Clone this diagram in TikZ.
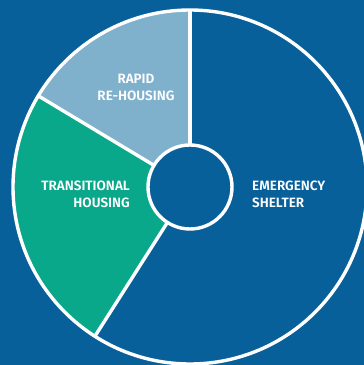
\documentclass[tikz,border=0pt]{standalone}
\usepackage{fontspec}
\setmainfont{Fira Sans}[BoldFont={Fira Sans SemiBold}]
\usepackage{xcolor}
\usetikzlibrary{calc}
\definecolor{bgblue}{HTML}{08609B}
\definecolor{rapidblue}{HTML}{7FB0CC}
\definecolor{transgreen}{HTML}{0AA88A}
\tikzstyle{sep}=[draw=white, line width=3.4pt]
\tikzstyle{lbl}=[text=white, font=\fontsize{13.5}{17}\selectfont\bfseries, inner sep=0pt]

\begin{document}
\begin{tikzpicture}[x=1pt, y=1pt]
		\useasboundingbox (0, 0) rectangle (364, 365);
		\clip (0, 0) rectangle (364, 365);
		\fill[bgblue] (0, 0) rectangle (364, 365);
		\coordinate (c) at (190, 178);
		% slices
		\fill[rapidblue] (c) -- ++(90:177) arc (90:149:177) -- cycle;
		\fill[transgreen] (c) -- ++(149:177) arc (149:237.5:177) -- cycle;
		\fill[bgblue] (c) -- ++(237.5:177) arc (237.5:450:177) -- cycle;
		% white borders
		\coordinate (o1) at ($(c)+(90:177)$);
		\coordinate (o2) at ($(c)+(149:177)$);
		\coordinate (o3) at ($(c)+(237.5:177)$);
		\draw[sep] (c) -- (o1);
		\draw[sep] (c) -- (o2);
		\draw[sep] (c) -- (o3);
		\draw[sep] (c) circle (177);
		\filldraw[sep, fill=bgblue] (c) circle (42);
		% labels
		\node(rapid)[lbl, align=center, anchor=center] at (136, 278) {RAPID\\RE-HOUSING};
		\node(trans)[lbl, align=right, anchor=east] at (130, 171) {TRANSITIONAL\\HOUSING};
		\node(shelter)[lbl, align=left, anchor=west] at (252, 171) {EMERGENCY\\SHELTER};
		\end{tikzpicture}
\end{document}
